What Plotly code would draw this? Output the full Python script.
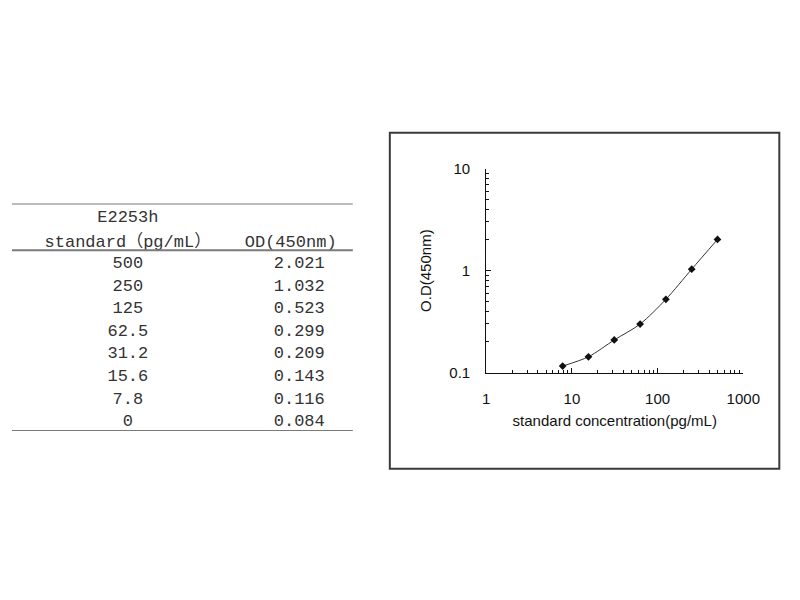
import plotly.graph_objects as go

# standard curve data (E2253h)
conc_labels = ["500", "250", "125", "62.5", "31.2", "15.6", "7.8", "0"]
conc = [500, 250, 125, 62.5, 31.2, 15.6, 7.8, 0]
od = [2.021, 1.032, 0.523, 0.299, 0.209, 0.143, 0.116, 0.084]
od_labels = ["2.021", "1.032", "0.523", "0.299", "0.209", "0.143", "0.116", "0.084"]

header_left = ["E2253h", "standard（pg/mL）"]
header_right = ["OD(450nm)"]

x_tickvals = [1, 10, 100, 1000]
x_ticktext = ["1", "10", "100", "1000"]
y_tickvals = [0.1, 1, 10]
y_ticktext = ["0.1", "1", "10"]

# zero standard can't go on a log axis
curve_x = [c for c in conc if c > 0]
curve_y = [v for c, v in zip(conc, od) if c > 0]

mono = dict(family="Liberation Mono, Noto Sans CJK SC, monospace", size=17, color="#333333")
sans = dict(family="Liberation Sans, Arial, sans-serif", size=15, color="#111111")

W, H = 800, 600  # page body adds an 8px margin, positions below are shifted for it

fig = go.Figure()

# ---- curve ----
fig.add_trace(go.Scatter(
    x=curve_x, y=curve_y, mode="lines+markers",
    line=dict(color="#333333", width=1, shape="spline", smoothing=0.8),
    marker=dict(symbol="diamond", size=6, color="#111111"),
    xaxis="x", yaxis="y", showlegend=False, cliponaxis=False,
))

# ---- table ----
body_rows = list(range(len(conc_labels)))
fig.add_trace(go.Scatter(
    x=[0] * len(conc_labels), y=body_rows, text=conc_labels,
    mode="text", textfont=mono, xaxis="x2", yaxis="y2", showlegend=False,
))
fig.add_trace(go.Scatter(
    x=[1] * len(od_labels), y=body_rows, text=od_labels,
    mode="text", textfont=mono, xaxis="x2", yaxis="y2", showlegend=False,
))
fig.add_trace(go.Scatter(
    x=[0, 0], y=[-2.02, -0.94], text=header_left,
    mode="text", textfont=mono, xaxis="x2", yaxis="y2", showlegend=False,
))
fig.add_trace(go.Scatter(
    x=[0.95], y=[-0.94], text=header_right,
    mode="text", textfont=mono, xaxis="x2", yaxis="y2", showlegend=False,
))

rule = dict(color="#7a7a7a", width=2)
shapes = [
    dict(type="line", xref="x2 domain", yref="y2", x0=0, x1=1, y0=-2.66, y1=-2.66, line=rule),
    dict(type="line", xref="x2 domain", yref="y2", x0=0, x1=1, y0=-0.6, y1=-0.6, line=rule),
    dict(type="line", xref="x2 domain", yref="y2", x0=0, x1=1, y0=7.39, y1=7.39, line=rule),
    # frame around the chart
    dict(type="rect", xref="paper", yref="paper", x0=388 / W, x1=788 / W, y0=1 - 465 / H, y1=1 - 119 / H,
         line=dict(color="#3a3a3a", width=2)),
]

fig.update_layout(
    width=W, height=H,
    margin=dict(l=0, r=0, t=0, b=0),
    paper_bgcolor="white", plot_bgcolor="white",
    shapes=shapes,
    xaxis=dict(
        type="log", range=[0, 3], domain=[487 / W, 751 / W], anchor="y",
        showline=True, linecolor="#111111", linewidth=1, showgrid=False, zeroline=False,
        ticks="inside", ticklen=5, tickcolor="#111111",
        tickvals=x_tickvals, ticktext=x_ticktext, tickfont=sans, ticklabelstandoff=12,
        minor=dict(ticks="inside", ticklen=3, tickcolor="#111111", dtick="D1", showgrid=False),
        title=dict(text="standard concentration(pg/mL)", font=sans, standoff=9),
    ),
    yaxis=dict(
        type="log", range=[-1, 1], domain=[1 - 366 / H, 1 - 156 / H], anchor="x",
        showline=True, linecolor="#111111", linewidth=1, showgrid=False, zeroline=False,
        ticks="inside", ticklen=5, tickcolor="#111111",
        tickvals=y_tickvals, ticktext=y_ticktext, tickfont=sans, ticklabelstandoff=12,
        minor=dict(ticks="inside", ticklen=3, tickcolor="#111111", dtick="D1", showgrid=False),
        title=dict(text="O.D(450nm)", font=sans, standoff=14),
    ),
    xaxis2=dict(domain=[0.0, 350 / W], range=[-0.676, 1.3125], anchor="y2", visible=False),
    yaxis2=dict(domain=[1 - 426 / H, 1 - 192 / H], range=[7.39, -2.66], anchor="x2", visible=False),
)

fig.write_html("out.html")
